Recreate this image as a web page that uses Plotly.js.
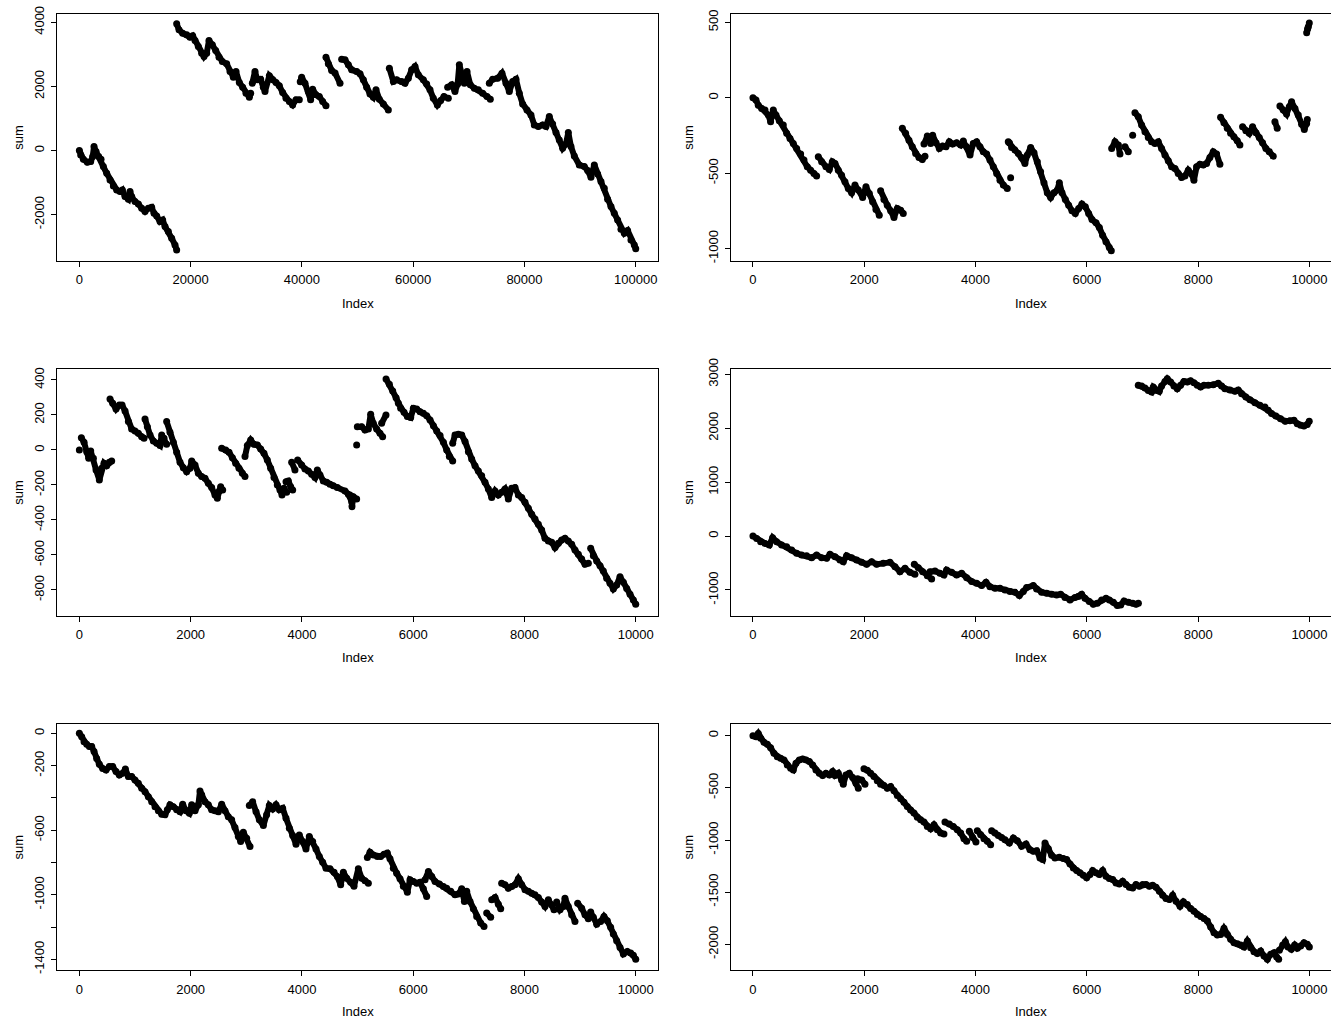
<!DOCTYPE html>
<html>
<head>
<meta charset="utf-8">
<script src="https://cdn.plot.ly/plotly-3.0.1.min.js"></script>
<style>html,body{margin:0;padding:0;background:#fff}#chart{width:1331px;height:1021px}</style>
</head>
<body>
<div id="chart"></div>
<script>
// ---- data (null = gap between runs) ----
const p1_x = [0,240,719,1438,2037,2396,2636,2995,3474,3894,4313,4912,5511,6110,6709,7308,7727,8206,8805,9105,9404,10003,10602,11201,11800,12399,12998,13418,13897,14496,14975,15394,15993,16592,17191,17491,null,
17491,17910,18569,19288,19887,20366,20785,21384,21983,22403,22882,23301,23900,24499,25098,25697,26476,27075,27674,28153,28752,29351,29950,30549,30789,null,
31088,31567,31987,32586,33065,33365,34143,34742,35341,35940,36539,37138,37737,38336,38935,39534,null,
39700,39954,40553,41152,41571,41930,42529,43128,43727,44326,null,
44326,44745,45344,45950,46848,null,
47148,47747,48346,48945,49843,50442,51041,51640,52239,52838,53317,53916,54634,55533,null,
55713,56432,57031,57929,58528,59127,59726,60325,60924,61822,62421,63020,63619,64338,64937,65536,66314,null,
66194,66913,67512,67991,68291,68710,69189,69669,70268,70986,71705,72484,73263,73862,null,
73682,74281,75180,75958,76677,77276,77875,78474,79073,79672,80450,81169,81768,82487,83266,83865,84464,85063,85662,86261,86860,87459,87878,88357,88956,89855,90753,91352,91951,92550,93149,93748,94347,94946,95545,96144,96743,97342,97941,98540,99139,99738,100000];
const p1_y = [0,-135,-270,-364,-343,-187,125,-31,-187,-270,-499,-707,-915,-1102,-1227,-1279,-1227,-1435,-1518,-1279,-1435,-1591,-1664,-1799,-1903,-1799,-1768,-1955,-2038,-2215,-2163,-2371,-2527,-2735,-2943,-3099,null,
3952,3765,3661,3609,3536,3578,3432,3245,3037,2933,3037,3432,3297,3120,2912,2777,2704,2465,2288,2465,2122,1976,1789,1664,1789,null,
2101,2465,2205,2226,1976,1841,2330,2205,2122,2018,1810,1633,1529,1425,1581,1581,null,
2150,2288,2101,1841,1581,1914,1737,1685,1529,1394,null,
2912,2704,2496,2420,2101,null,
2850,2829,2673,2517,2465,2392,2205,1976,1768,1664,1893,1602,1456,1269,null,
2569,2153,2205,2153,2101,2257,2517,2621,2361,2205,2080,1893,1633,1425,1560,1685,1633,null,
1976,2049,1841,2080,2673,2361,2101,2465,2049,1945,1893,1789,1685,1602,null,
2101,2226,2257,2413,2101,1841,2153,2226,1789,1456,1269,1113,801,749,801,749,1061,832,562,333,73,208,562,125,-166,-447,-499,-624,-832,-447,-728,-967,-1175,-1518,-1747,-1955,-2163,-2454,-2579,-2496,-2787,-2943,-3060];

const p2_x = [0,54,96,156,216,276,317,365,413,473,545,605,665,725,785,857,917,976,1036,1096,1144,null,
1174,1234,1312,1372,1426,1474,1533,1593,1653,1713,1773,1833,1893,1971,2031,2091,2150,2210,2270,null,
2294,2354,2414,2474,2534,2594,2654,2701,null,
2684,2743,2803,2863,2923,2983,3043,3091,null,
3073,3133,3193,3229,3289,3349,3409,3468,3528,3588,3660,3732,3780,3840,3900,3959,4019,4079,4139,4199,4259,4319,4379,4439,4499,4570,null,
4610,null,4630,null,
4588,4648,4708,4768,4827,4887,4930,4990,5050,5110,5169,5229,5289,5349,5409,5469,5505,5553,5613,5673,5732,5792,5852,5912,5972,6032,6092,6164,6224,6283,6343,6403,6439,null,
6446,6506,6566,6595,null,6685,6745,null,6823,null,
6864,6924,6984,7044,7104,7163,7223,7283,7343,7403,7463,7523,7583,7642,7702,7762,7822,7882,7924,7972,8032,8092,8151,8211,8271,8331,8391,null,
8403,8463,8523,8583,8642,8702,8750,null,
8798,8858,8918,8978,9038,9098,9157,9217,9277,9349,null,
9379,9421,null,
9469,9529,9589,9637,9679,9739,9799,9859,9907,9949,9961,null,
9950,9965,9980,9997];
const p2_y = [0,-15,-49,-71,-82,-115,-159,-82,-115,-152,-181,-236,-270,-303,-336,-373,-413,-457,-480,-502,-519,null,
-391,-424,-457,-475,-424,-435,-480,-513,-557,-601,-630,-579,-612,-661,-590,-634,-690,-740,-778,null,
-617,-674,-712,-749,-793,-734,-745,-767,null,
-203,-236,-281,-325,-369,-396,-409,-387,null,
-307,-254,-303,-248,-298,-336,-320,-325,-292,-307,-298,-314,-287,-325,-380,-303,-292,-325,-358,-373,-413,-457,-502,-546,-579,-601,null,
-300,null,-530,null,
-292,-329,-347,-369,-396,-435,-380,-329,-365,-424,-491,-564,-630,-661,-630,-612,-564,-630,-674,-712,-749,-767,-734,-705,-723,-767,-807,-829,-860,-911,-955,-992,-1014,null,
-336,-292,-314,-373,null,-325,-358,null,-248,null,
-99,-126,-181,-225,-263,-292,-303,-292,-336,-380,-418,-457,-469,-502,-528,-519,-480,-506,-546,-457,-440,-446,-435,-396,-358,-373,-440,null,
-130,-166,-203,-236,-259,-285,-314,null,
-192,-219,-236,-192,-232,-263,-298,-336,-358,-387,null,
-159,-203,null,
-55,-82,-108,-60,-27,-71,-115,-175,-210,-170,-144,null,
430,455,470,495];

const p3_x = [0,null,
36,84,132,168,204,252,300,359,401,443,491,539,581,null,
551,599,659,719,767,821,881,940,1000,1060,1120,1162,null,
1180,1222,1270,1330,1390,1450,1480,1522,1569,null,
1569,1629,1689,1749,1809,1869,1929,1989,2019,2079,2139,2198,2258,2318,2378,2438,2480,2516,2540,2576,null,
2558,2630,2690,2750,2809,2869,2929,2977,null,
2977,3019,3079,3139,3199,3259,3318,3378,3438,3498,3558,3606,3642,3678,3726,null,
3714,3756,3798,3834,null,
3816,3875,null,
3923,3995,4055,4115,4175,4235,4277,4325,4385,4445,4504,4564,4636,4775,4834,4894,4900,4924,4984,null,
4984,null,
4996,5074,5134,5194,5236,5283,5343,5403,5451,null,
5433,5511,null,
5512,5572,5632,5692,5734,5775,5835,5895,5955,6003,6063,6123,6183,6243,6303,6363,6423,6483,6543,6602,6650,6710,null,
6710,6752,6812,6872,6932,6992,7051,7111,7171,7231,7291,7351,7411,7471,7531,7590,7650,7710,7770,7830,7890,7950,8010,8070,8130,8189,8249,8309,8369,8429,8489,8549,8609,8669,8728,8788,8848,8908,8968,9028,9088,9148,null,
9190,9238,9298,9358,9417,9477,9537,9597,9657,9717,9777,9837,9897,9957,10000];
const p3_y = [0,null,
70,44,-10,-48,-6,-48,-114,-171,-105,-76,-90,-70,-63,null,
291,267,234,257,257,223,162,120,109,95,76,67,null,
177,133,86,51,38,25,86,67,32,null,
162,101,44,-13,-70,-101,-124,-105,-63,-86,-133,-152,-162,-190,-215,-257,-276,-234,-210,-229,null,
10,0,-13,-44,-76,-105,-133,-152,null,
-38,25,57,32,29,6,-19,-57,-105,-158,-200,-229,-257,-219,-242,null,
-181,-177,-210,-229,null,
-70,-114,null,
-57,-86,-109,-120,-139,-158,-114,-143,-177,-185,-196,-204,-215,-234,-253,-295,-324,-267,-280,null,
29,null,
133,133,114,120,204,152,120,95,76,null,
152,200,null,
406,375,337,299,267,238,215,191,185,238,234,219,210,196,171,139,109,82,44,0,-38,-63,null,
38,86,90,86,48,-10,-51,-90,-120,-147,-185,-223,-272,-234,-257,-242,-223,-280,-219,-215,-257,-272,-299,-333,-368,-394,-425,-457,-505,-520,-528,-558,-533,-514,-505,-520,-539,-572,-596,-623,-653,-648,null,
-562,-604,-634,-661,-692,-733,-762,-794,-772,-724,-756,-791,-825,-857,-882];

const p4_x = [0,66,138,216,294,353,425,515,605,695,785,875,964,1054,1144,1234,1324,1384,1474,1563,1623,1683,1773,1863,1953,2043,2133,2222,2342,2462,2552,2642,2732,2821,2911,null,
2899,2971,3049,3133,3211,null,
3181,3271,3360,3432,3480,3570,3660,3750,3840,3930,4019,4109,4187,4259,4349,4439,4529,4619,4708,4786,4858,4918,5037,5097,5187,5277,5367,5457,5529,5607,5697,5787,5846,5906,5966,6044,6116,6188,6266,6344,6404,6476,6548,6608,6668,6746,6824,6884,6926,null,
6924,6984,7044,7104,7163,7193,7253,7301,7343,7403,7445,7505,7565,7624,7684,7744,7804,7864,7924,7984,8044,8104,8182,8271,8361,8421,8481,8571,8661,8720,8780,8858,8930,9020,9110,9199,9259,9319,9397,9481,9565,9649,9721,9781,9841,9901,9960,9996];
const p4_y = [0,-43,-105,-136,-167,-31,-105,-167,-197,-259,-321,-352,-364,-401,-352,-401,-413,-339,-383,-444,-475,-364,-401,-444,-487,-524,-475,-524,-506,-487,-568,-660,-599,-673,-710,null,
-524,-586,-660,-734,-796,null,
-660,-648,-691,-722,-629,-673,-722,-691,-771,-845,-876,-919,-858,-938,-969,-969,-1000,-1030,-1043,-1104,-1030,-956,-919,-981,-1043,-1061,-1080,-1092,-1080,-1141,-1184,-1141,-1123,-1080,-1154,-1215,-1265,-1246,-1184,-1154,-1184,-1228,-1289,-1277,-1203,-1228,-1246,-1265,-1246,null,
2795,2783,2746,2702,2672,2764,2702,2684,2783,2869,2918,2857,2783,2733,2795,2869,2857,2881,2844,2795,2764,2795,2795,2807,2832,2783,2733,2709,2684,2709,2641,2579,2530,2474,2425,2394,2332,2271,2227,2178,2129,2141,2147,2085,2055,2042,2067,2129];

const p5_x = [0,42,84,132,180,222,264,311,359,419,479,539,599,659,719,779,827,881,940,1000,1060,1120,1180,1240,1300,1360,1420,1480,1539,1581,1629,1689,1749,1809,1857,1917,1977,2019,2079,2139,2168,2198,2258,2318,2378,2438,2498,2558,2617,2677,2737,2797,2857,2899,2947,3007,3067,null,
3055,3115,3175,3235,3307,3366,3414,3474,3534,3594,3654,3714,3774,3834,3894,3953,4013,4073,4133,4193,4253,4313,4373,4433,4505,4577,4637,4697,4745,4805,4876,4936,5014,5074,5134,5194,null,
5176,5224,5284,5356,5415,5475,5535,5583,5643,5703,5763,5823,5895,5943,6003,6063,6123,6183,6243,null,
6213,6273,6333,6393,6471,6543,6602,6674,6752,6812,6872,6920,6962,7021,7081,7141,7213,7273,null,
7321,7393,null,
7411,7471,7531,7573,null,
7590,7650,7710,7770,7830,7890,7950,8010,8070,8130,8189,8249,8309,8369,8429,8489,8531,null,
8579,8639,8699,8728,8788,8848,8908,null,
8956,9028,9088,9148,9190,9238,9298,9369,9429,9489,9549,9597,9657,9717,9777,9849,9909,9957,10000];
const p5_y = [0,-21,-52,-68,-82,-82,-113,-155,-192,-217,-227,-206,-206,-237,-258,-247,-221,-268,-268,-289,-309,-340,-361,-392,-423,-454,-480,-501,-505,-474,-443,-454,-474,-485,-439,-480,-495,-443,-480,-443,-357,-381,-423,-443,-474,-480,-485,-439,-480,-516,-536,-584,-639,-670,-612,-650,-701,null,
-447,-423,-485,-536,-571,-505,-447,-468,-443,-474,-464,-526,-588,-633,-687,-629,-670,-716,-639,-670,-716,-763,-798,-835,-839,-860,-887,-938,-860,-897,-922,-948,-839,-897,-913,-928,null,
-769,-736,-753,-763,-763,-749,-742,-777,-835,-866,-901,-948,-984,-907,-918,-928,-922,-963,-1010,null,
-907,-856,-887,-918,-934,-949,-959,-979,-1000,-996,-963,-1041,-979,-1041,-1087,-1134,-1175,-1196,null,
-1113,-1140,null,
-1031,-1017,-1058,-1087,null,
-928,-938,-959,-949,-938,-901,-938,-969,-979,-990,-1000,-1017,-1045,-1072,-1031,-1062,-1093,null,
-1045,-1093,-1072,-1021,-1072,-1124,-1165,null,
-1052,-1083,-1124,-1149,-1107,-1140,-1182,-1165,-1134,-1161,-1202,-1243,-1285,-1326,-1367,-1351,-1361,-1375,-1400];

const p6_x = [0,54,96,138,198,258,317,377,437,497,557,617,677,725,773,833,893,953,1013,1072,1132,1192,1252,1312,1372,1432,1474,1533,1593,1623,1671,1731,1791,1851,1893,null,
1881,1953,2013,null,
1995,2055,2114,2174,2234,2294,2354,2414,2474,2534,2594,2654,2713,2773,2833,2893,2953,3013,3073,3133,3193,3253,3313,3373,3432,null,
3450,3528,3600,3672,3732,3792,3840,null,
3888,3947,4007,null,
4031,4091,4151,4211,4271,null,
4289,4349,4409,4469,4529,4607,4679,4750,4828,4906,4978,5038,5098,5158,5206,5248,5308,5367,5427,5505,5577,5637,5697,5757,5817,5877,5937,5996,6056,6104,6164,6224,6284,6344,6404,6464,6524,6583,6643,6703,6763,6823,6883,6943,7003,7063,7123,7182,7242,7302,7362,7422,7482,7542,7602,7674,7734,7805,7865,7925,7985,8045,8105,8165,8225,8285,8345,8404,8464,8524,8584,8644,8704,8764,8824,8884,8943,9003,9063,9123,9183,9243,9303,9363,9411,9447,null,
9459,9519,9567,9614,9674,9734,9782,9842,9902,9962,9998];
const p6_y = [0,-10,22,-25,-64,-83,-115,-169,-201,-217,-232,-280,-312,-328,-264,-232,-223,-232,-248,-280,-328,-360,-382,-360,-376,-344,-382,-360,-424,-465,-376,-360,-401,-455,-503,null,
-414,-424,-465,null,
-318,-331,-360,-392,-433,-465,-478,-503,-487,-529,-573,-605,-637,-678,-713,-742,-783,-806,-828,-870,-892,-854,-901,-933,-943,null,
-828,-847,-870,-901,-933,-987,-1013,null,
-917,-975,-1019,null,
-911,-949,-987,-1013,-1045,null,
-911,-933,-956,-975,-997,-1029,-981,-1006,-1061,-1038,-1093,-1108,-1102,-1172,-1188,-1029,-1083,-1147,-1172,-1166,-1178,-1188,-1229,-1268,-1293,-1315,-1338,-1363,-1331,-1293,-1315,-1331,-1293,-1347,-1370,-1379,-1411,-1421,-1395,-1427,-1452,-1459,-1427,-1443,-1427,-1427,-1443,-1433,-1452,-1491,-1529,-1561,-1570,-1529,-1586,-1634,-1593,-1618,-1656,-1682,-1714,-1733,-1752,-1777,-1835,-1889,-1911,-1905,-1847,-1905,-1952,-1984,-1994,-2007,-2026,-1968,-2032,-2070,-2089,-2064,-2112,-2144,-2096,-2080,-2121,-2144,null,
-2058,-2007,-1975,-2026,-2048,-2007,-2038,-2016,-1984,-2000,-2026];

// tick values / labels
const x1_ticks = [0,20000,40000,60000,80000,100000];
const x_ticks = [0,2000,4000,6000,8000,10000];
const y1_ticks = [-2000,0,2000,4000];
const y2_ticks = [-1000,-500,0,500];
const y3_ticks = [-800,-600,-400,-200,0,200,400];
const y4_ticks = [-1000,0,1000,2000,3000];
const y5_ticks = [-1400,-1200,-1000,-800,-600,-400,-200,0];
const y5_text  = ['-1400','','-1000','','-600','','-200','0'];
const y6_ticks = [-2000,-1500,-1000,-500,0];
const xTitle = 'Index', yTitle = 'sum';

// ---- layout geometry ----
const W = 1331, H = 1021;
const colX = [[57.1, 658.0], [730.7, 1331]];
const rowY = [[14.3, 260.7], [369.3, 615.7], [724.0, 970.3]];
const xRanges = [[-4000, 104000], [-400, 10387], [-400, 10400], [-400, 10387], [-400, 10400], [-400, 10387]];
const yRanges = [[-3435, 4250], [-1080, 553], [-947, 461], [-1477, 3093], [-1468, 58], [-2249, 112]];

const panels = [
  {x: p1_x, y: p1_y, xt: x1_ticks, yt: y1_ticks},
  {x: p2_x, y: p2_y, xt: x_ticks, yt: y2_ticks},
  {x: p3_x, y: p3_y, xt: x_ticks, yt: y3_ticks},
  {x: p4_x, y: p4_y, xt: x_ticks, yt: y4_ticks},
  {x: p5_x, y: p5_y, xt: x_ticks, yt: y5_ticks, ytext: y5_text},
  {x: p6_x, y: p6_y, xt: x_ticks, yt: y6_ticks}
];

const FONT = {family: 'Liberation Sans, Arial, sans-serif', size: 13, color: '#000'};
const traces = [];
const layout = {
  width: W, height: H, margin: {l: 0, r: 0, t: 0, b: 0},
  paper_bgcolor: '#fff', plot_bgcolor: '#fff', showlegend: false,
  font: FONT, annotations: []
};

panels.forEach((p, i) => {
  const col = i % 2, row = Math.floor(i / 2);
  const n = i + 1;
  const xa = 'xaxis' + (n === 1 ? '' : n), ya = 'yaxis' + (n === 1 ? '' : n);
  traces.push({
    type: 'scatter', mode: 'lines+markers', x: p.x, y: p.y,
    xaxis: 'x' + (n === 1 ? '' : n), yaxis: 'y' + (n === 1 ? '' : n),
    connectgaps: false,
    line: {color: '#000', width: 6, shape: 'linear'},
    marker: {color: '#000', size: 7},
    hoverinfo: 'skip'
  });
  const cx = colX[col], ry = rowY[row];
  layout[xa] = {
    domain: [cx[0] / W, cx[1] / W], range: xRanges[i], anchor: 'y' + (n === 1 ? '' : n),
    tickmode: 'array', tickvals: p.xt, ticktext: p.xt.map(String),
    ticks: 'outside', ticklen: 5, tickwidth: 1, tickcolor: '#000',
    showline: true, linecolor: '#000', linewidth: 1, mirror: true,
    showgrid: false, zeroline: false, tickfont: FONT, ticklabelstandoff: 2
  };
  layout[ya] = {
    domain: [1 - ry[1] / H, 1 - ry[0] / H], range: yRanges[i], anchor: 'x' + (n === 1 ? '' : n),
    tickmode: 'array', tickvals: p.yt, ticktext: p.ytext || p.yt.map(String),
    tickangle: -90,
    ticks: 'outside', ticklen: 5, tickwidth: 1, tickcolor: '#000',
    showline: true, linecolor: '#000', linewidth: 1, mirror: col === 0 ? true : false,
    showgrid: false, zeroline: false, tickfont: FONT, ticklabelstandoff: 2
  };
  const xc = col === 0 ? 357.8 : 1031;
  const titleY = [303, 657, 1011][row];
  layout.annotations.push({
    text: xTitle, xref: 'paper', yref: 'paper', x: xc / W, y: 1 - titleY / H,
    xanchor: 'center', yanchor: 'middle', showarrow: false, font: FONT
  });
  layout.annotations.push({
    text: yTitle, xref: 'paper', yref: 'paper', x: (col === 0 ? 18.3 : 688.3) / W,
    y: 1 - ((ry[0] + ry[1]) / 2) / H, textangle: -90,
    xanchor: 'center', yanchor: 'middle', showarrow: false, font: FONT
  });
});

Plotly.newPlot('chart', traces, layout, {staticPlot: true, displayModeBar: false});
</script>
</body>
</html>
